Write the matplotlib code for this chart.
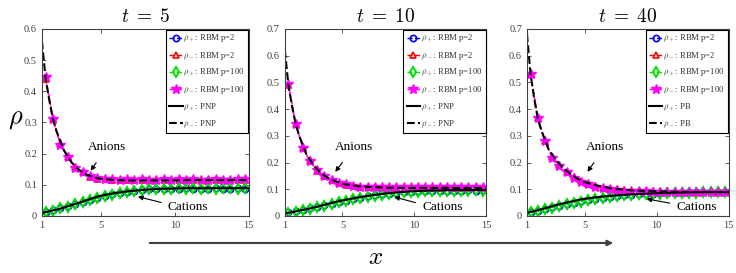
import numpy as np
import matplotlib
matplotlib.use("Agg")
import matplotlib.pyplot as plt
from matplotlib.patches import FancyArrowPatch

plt.rcParams['font.family'] = ['Liberation Serif', 'DejaVu Serif']
plt.rcParams['mathtext.fontset'] = 'cm'

# grids
x_rbm = [1.25, 1.75, 2.25, 2.75, 3.25, 3.75, 4.25, 4.75, 5.25, 5.75, 6.25, 6.75, 7.25, 7.75,
         8.25, 8.75, 9.25, 9.75, 10.25, 10.75, 11.25, 11.75, 12.25, 12.75, 13.25, 13.75, 14.25, 14.75]
x_cont = [1, 1.25, 1.5, 1.75, 2, 2.5, 3, 3.5, 4, 4.5, 5, 6, 7, 8, 9, 10, 11, 12, 13, 14, 15]

titles = [r'$t\;=\;5$', r'$t\;=\;10$', r'$t\;=\;40$']
ref_names = ['PNP', 'PNP', 'PB']
ymax = [0.6, 0.7, 0.7]

# t = 5
t5_neg_p2 = [.44, .31, .23, .19, .157, .14, .126, .12, .117, .116, .115, .114, .116, .115, .114, .116,
             .115, .114, .115, .116, .114, .115, .116, .114, .115, .116, .115, .114]
t5_neg_p100 = [.445, .31, .228, .188, .155, .141, .127, .121, .118, .117, .116, .117, .115, .117, .116, .115,
               .117, .116, .118, .115, .117, .116, .115, .117, .116, .115, .117, .118]
t5_pos_p2 = [.013, .018, .024, .031, .038, .045, .052, .058, .064, .069, .074, .078, .081, .084, .086, .087,
             .088, .087, .088, .089, .088, .087, .088, .089, .088, .088, .089, .088]
t5_pos_p100 = [.012, .017, .024, .030, .037, .044, .051, .058, .063, .068, .073, .077, .080, .083, .085, .087,
               .088, .088, .089, .088, .089, .088, .089, .088, .089, .089, .088, .089]
t5_neg_ref = [0.56, 0.44, 0.37, 0.31, 0.27, 0.21, 0.172, 0.148, 0.133, 0.124, 0.119, 0.115, 0.114, 0.114,
              0.114, 0.114, 0.115, 0.115, 0.115, 0.115, 0.115]
t5_pos_ref = [0.010, 0.012, 0.015, 0.018, 0.020, 0.027, 0.035, 0.042, 0.050, 0.058, 0.065, 0.074, 0.080,
              0.084, 0.087, 0.088, 0.089, 0.089, 0.089, 0.089, 0.089]

# t = 10
t10_neg_p2 = [.49, .345, .255, .205, .17, .15, .135, .125, .117, .112, .109, .108, .107, .106, .107, .106,
              .105, .106, .107, .106, .105, .106, .107, .106, .105, .106, .107, .106]
t10_neg_p100 = [.495, .343, .256, .204, .171, .149, .136, .124, .118, .113, .110, .109, .108, .107, .108, .107,
                .108, .109, .107, .108, .109, .107, .108, .109, .108, .107, .108, .109]
t10_pos_p2 = [.013, .017, .022, .028, .034, .040, .046, .052, .057, .063, .068, .073, .077, .081, .084, .087,
              .089, .091, .092, .093, .094, .094, .095, .095, .095, .096, .095, .096]
t10_pos_p100 = [.012, .016, .021, .027, .033, .039, .045, .051, .056, .062, .067, .072, .076, .080, .083, .086,
                .088, .090, .091, .092, .093, .094, .094, .095, .095, .095, .096, .095]
t10_neg_ref = [0.62, 0.49, 0.41, 0.345, 0.30, 0.23, 0.19, 0.16, 0.142, 0.13, 0.12, 0.112, 0.108, 0.106,
               0.105, 0.105, 0.105, 0.105, 0.105, 0.105, 0.105]
t10_pos_ref = [0.010, 0.012, 0.014, 0.017, 0.020, 0.025, 0.031, 0.038, 0.045, 0.052, 0.058, 0.068, 0.077,
               0.084, 0.089, 0.093, 0.095, 0.096, 0.097, 0.097, 0.097]

# t = 40
t40_neg_p2 = [.53, .365, .28, .22, .19, .165, .145, .13, .12, .112, .106, .102, .099, .097, .095, .094,
              .093, .092, .092, .091, .091, .091, .090, .090, .091, .090, .090, .091]
t40_neg_p100 = [.53, .367, .28, .218, .188, .163, .143, .128, .118, .110, .104, .100, .097, .095, .094, .093,
                .092, .091, .091, .090, .090, .090, .089, .090, .090, .089, .090, .090]
t40_pos_p2 = [.014, .020, .026, .032, .038, .044, .050, .055, .060, .065, .069, .072, .075, .078, .080, .082,
              .083, .084, .085, .086, .087, .087, .088, .088, .088, .089, .089, .089]
t40_pos_p100 = [.013, .019, .025, .031, .037, .043, .049, .054, .059, .064, .068, .071, .074, .077, .079, .081,
                .082, .083, .084, .085, .086, .086, .087, .087, .088, .088, .088, .088]
t40_neg_ref = [0.68, 0.53, 0.44, 0.365, 0.32, 0.25, 0.21, 0.18, 0.158, 0.14, 0.127, 0.112, 0.102, 0.097,
               0.094, 0.092, 0.091, 0.090, 0.090, 0.090, 0.090]
t40_pos_ref = [0.012, 0.015, 0.018, 0.021, 0.025, 0.032, 0.040, 0.047, 0.053, 0.059, 0.064, 0.071, 0.076,
               0.080, 0.083, 0.085, 0.087, 0.088, 0.089, 0.089, 0.089]

panels = [
    (t5_pos_p2, t5_neg_p2, t5_pos_p100, t5_neg_p100, t5_pos_ref, t5_neg_ref),
    (t10_pos_p2, t10_neg_p2, t10_pos_p100, t10_neg_p100, t10_pos_ref, t10_neg_ref),
    (t40_pos_p2, t40_neg_p2, t40_pos_p100, t40_neg_p100, t40_pos_ref, t40_neg_ref),
]

# annotation positions (text, arrow head) in data coords
anion_txt = [(5.4, 0.221), (5.8, 0.258), (6.4, 0.258)]
anion_head = [(4.3, 0.145), (4.5, 0.165), (5.2, 0.165)]
cation_txt = [(10.9, 0.03), (11.95, 0.034), (12.8, 0.034)]
cation_head = [(7.5, 0.062), (8.6, 0.071), (9.3, 0.064)]

fig = plt.figure(figsize=(7.36, 2.73), dpi=100)
lefts = [0.057, 0.387, 0.716]
widths = [0.281, 0.274, 0.274]
gray = '#404040'

for i, (pp2, pn2, pp100, pn100, pref, nref) in enumerate(panels):
    ax = fig.add_axes([lefts[i], 0.209, widths[i], 0.685])
    ax.plot(x_rbm, pp2, '--o', color='blue', lw=1, ms=4.5, mfc='none', mew=1.2, label=r'$\rho_+$: RBM p=2')
    ax.plot(x_rbm, pn2, '--^', color='red', lw=1, ms=4.5, mfc='none', mew=1.2, label=r'$\rho_-$: RBM p=2')
    ax.plot(x_rbm, pp100, '--d', color='#00e000', lw=1, ms=5, mfc='none', mew=1.4, label=r'$\rho_+$: RBM p=100')
    ax.plot(x_rbm, pn100, '--*', color='magenta', lw=1, ms=7, mfc='magenta', label=r'$\rho_-$: RBM p=100')
    ax.plot(x_cont, pref, '-', color='black', lw=1.5, label=r'$\rho_+$: ' + ref_names[i])
    ax.plot(x_cont, nref, '--', color='black', lw=1.5, label=r'$\rho_-$: ' + ref_names[i])

    ax.set_xlim(1, 15)
    ax.set_ylim(0, ymax[i])
    ax.set_xticks([1, 5, 10, 15])
    ax.set_yticks(np.arange(0, ymax[i] + 0.01, 0.1))
    ax.set_yticklabels(['0'] + ['%.1f' % v for v in np.arange(0.1, ymax[i] + 0.01, 0.1)])
    ax.tick_params(direction='in', top=True, right=True, labelsize=7.5, colors=gray, length=3, width=0.6)
    for s in ax.spines.values():
        s.set_color(gray)
        s.set_linewidth(0.8)
    ax.set_title(titles[i], fontsize=14, pad=5)

    leg = ax.legend(loc='upper right', fontsize=6.2, handlelength=1.6, handletextpad=0.1,
                    labelspacing=0.6, borderaxespad=0.1, borderpad=0.35, numpoints=1,
                    fancybox=False, framealpha=1)
    leg.get_frame().set_edgecolor('black')
    leg.get_frame().set_linewidth(0.8)
    for t in leg.get_texts():
        t.set_color('#333333')

    ax.annotate('Anions', xy=anion_head[i], xytext=anion_txt[i], fontsize=9.5, ha='center', va='center',
                arrowprops=dict(arrowstyle='-|>', color='black', lw=0.8, mutation_scale=7, shrinkA=6, shrinkB=0))
    ax.annotate('Cations', xy=cation_head[i], xytext=cation_txt[i], fontsize=9.5, ha='center', va='center',
                arrowprops=dict(arrowstyle='-|>', color='black', lw=0.8, mutation_scale=7, shrinkA=3, shrinkB=0,
                                relpos=(0, 0.7)))

fig.text(0.022, 0.56, r'$\rho$', fontsize=19, ha='center', va='center')
fig.text(0.51, 0.055, r'$x$', fontsize=18, ha='center', va='center')
fig.add_artist(FancyArrowPatch((147 / 736, 1 - 243 / 273), (616 / 736, 1 - 243 / 273),
                               transform=fig.transFigure, arrowstyle='-|>', mutation_scale=8,
                               color=gray, lw=1.5))

fig.savefig('out.png', dpi=100)
